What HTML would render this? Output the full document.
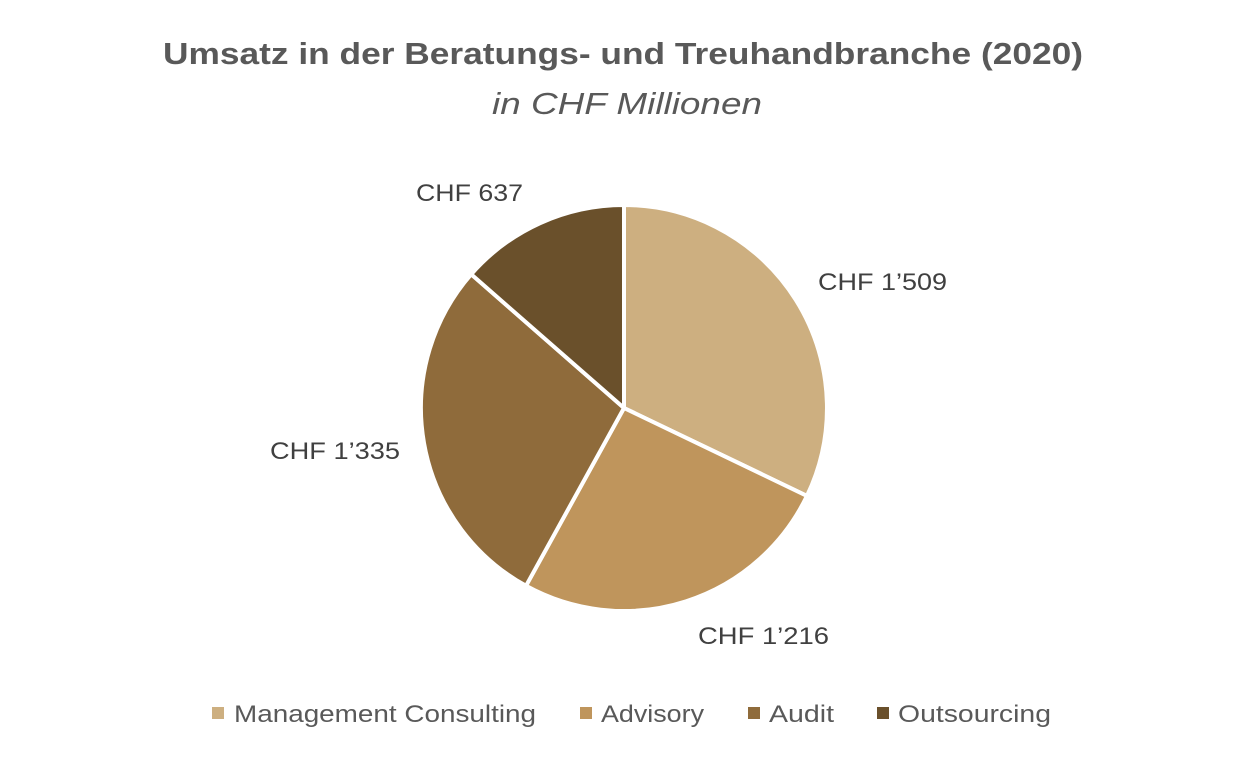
<!DOCTYPE html>
<html><head><meta charset="utf-8"><style>
body{margin:0;background:#fff;}
svg{display:block;}
text{font-family:"Liberation Sans",sans-serif;}
</style></head><body>
<svg width="1248" height="764" viewBox="0 0 1248 764">
<rect width="1248" height="764" fill="#fff"/>
<text x="163" y="64" textLength="920" lengthAdjust="spacingAndGlyphs" font-size="31" font-weight="bold" fill="#595959">Umsatz in der Beratungs- und Treuhandbranche (2020)</text>
<text x="492" y="114" textLength="270" lengthAdjust="spacingAndGlyphs" font-size="31" font-style="italic" fill="#595959">in CHF Millionen</text>
<g stroke="#fff" stroke-width="4" stroke-linejoin="round">
<path d="M624,408 L624,205 A203,203 0 0 1 806.96,495.9 Z" fill="#cdaf80"/>
<path d="M624,408 L806.96,495.9 A203,203 0 0 1 526,585.8 Z" fill="#bf955c"/>
<path d="M624,408 L526,585.8 A203,203 0 0 1 471.2,274.3 Z" fill="#8f6b3b"/>
<path d="M624,408 L471.2,274.3 A203,203 0 0 1 624,205 Z" fill="#6a502b"/>
</g>
<g font-size="24" fill="#404040">
<text x="818" y="290" textLength="129" lengthAdjust="spacingAndGlyphs">CHF 1’509</text>
<text x="698" y="644" textLength="131" lengthAdjust="spacingAndGlyphs">CHF 1’216</text>
<text x="270" y="459" textLength="130" lengthAdjust="spacingAndGlyphs">CHF 1’335</text>
<text x="416" y="201" textLength="107" lengthAdjust="spacingAndGlyphs">CHF 637</text>
</g>
<g font-size="24" fill="#595959">
<rect x="212" y="707" width="12" height="12" fill="#cdaf80"/>
<text x="234" y="722" textLength="302" lengthAdjust="spacingAndGlyphs">Management Consulting</text>
<rect x="580" y="707" width="12" height="12" fill="#bf955c"/>
<text x="601" y="722" textLength="103" lengthAdjust="spacingAndGlyphs">Advisory</text>
<rect x="748" y="707" width="12" height="12" fill="#8f6b3b"/>
<text x="769" y="722" textLength="65" lengthAdjust="spacingAndGlyphs">Audit</text>
<rect x="877" y="707" width="12" height="12" fill="#6a502b"/>
<text x="898" y="722" textLength="153" lengthAdjust="spacingAndGlyphs">Outsourcing</text>
</g>
</svg>
</body></html>
